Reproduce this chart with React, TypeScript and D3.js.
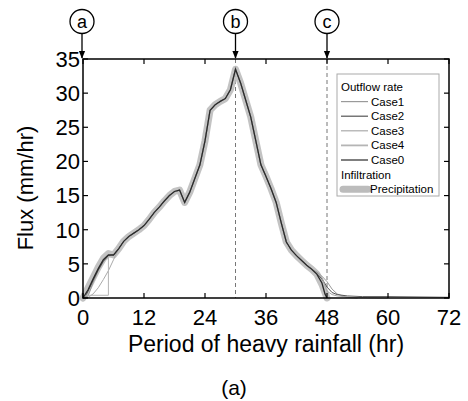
import React from "react";
import * as d3 from "d3";

const hours = [0,1,2,3,4,5,6,7,8,9,10,11,12,13,14,15,16,17,18,19,20,21,22,23,24,25,26,27,28,29,30,31,32,33,34,35,36,37,38,39,40,41,42,43,44,45,46,47,48];
const precipitation = [0,1.5,3,4.5,5.8,6.5,6.3,7.2,8.3,9,9.5,10,10.6,11.5,12.5,13.3,14.2,15,15.6,15.8,14,15.5,17.5,19.5,23,27.5,28.3,28.8,29.2,30.5,33.5,31.5,29,26.5,23,19.5,17.8,16,14,11,8.2,7,6.2,5.5,4.8,4.2,3.5,2,0];

// Cases share the body of precipitation; start and end parts read separately
const case0Start: [number, number][] = [[0,0],[1,1.2],[2,2.8],[3,4.3],[4,5.6],[5,6.3]];
const case1Start: [number, number][] = [[0,0],[1,0.3],[2,2.3],[3,4],[4,5.3],[5,6.2]];
const case2Start: [number, number][] = [[0,0],[0.5,0.3],[1,1],[2,2.6],[3,4.1],[4,5.4],[5,6.2]];
const case3Start: [number, number][] = [[0,0],[1,0.1],[2,0.6],[3,1.5],[4,2.7],[5,4],[6,5.6]];
const case4Start: [number, number][] = [[0,0],[0.6,0.4],[5,0.4],[5,6.1]];

const case0End: [number, number][] = [[46,3.5],[47,2.2],[47.6,0.6],[48,0]];
const case1End: [number, number][] = [[46,3.8],[47,3.2],[48,2.4],[49,1.3],[50,0.6],[51,0.3],[52,0.1],[54,0]];
const case2End: [number, number][] = [[46,3.6],[47,2.8],[48,1.6],[49,0.8],[50,0.5],[52,0.3],[55,0.2],[60,0.2],[72,0.1]];
const case3End: [number, number][] = [[46,3.7],[47,3],[48,1.0],[49,0.5],[50,0.3],[52,0.15],[56,0.05],[60,0]];
const case4End: [number, number][] = [[46,3.4],[47,2.4],[47.7,0.4],[48,0]];

const xTicks = [0,12,24,36,48,60,72];
const yTicks = [0,5,10,15,20,25,30,35];
const markers = [{ label: "a", h: 0 }, { label: "b", h: 30 }, { label: "c", h: 48 }];
const legendCases = ["Case1", "Case2", "Case3", "Case4", "Case0"];
const caseColors = ["#9a9a9a", "#555555", "#aaaaaa", "#b5b5b5", "#2a2a2a"];

function body(start: [number, number][], end: [number, number][]): [number, number][] {
  const s0 = start[start.length - 1][0];
  const e0 = end[0][0];
  const mid: [number, number][] = hours
    .map((h, i) => [h, precipitation[i]] as [number, number])
    .filter(([h]) => h > s0 && h < e0);
  return [...start, ...mid, ...end];
}

export default function App() {
  const W = 468, H = 401;
  const x = d3.scaleLinear().domain([0, 72]).range([83, 449]);
  const y = d3.scaleLinear().domain([0, 35]).range([298, 59]);
  const line = d3.line<[number, number]>().x(d => x(d[0])).y(d => y(d[1]));
  const precipData = hours.map((h, i) => [h, precipitation[i]] as [number, number]);
  const cases = [
    body(case1Start, case1End),
    body(case2Start, case2End),
    body(case3Start, case3End),
    body(case4Start, case4End),
    body(case0Start, case0End),
  ];
  const font = "'Liberation Sans', Arial, sans-serif";
  const lx = 337, ly = 74, lw = 102, lh = 122;
  const rowY = (i: number) => 87 + i * 14.6;
  const mx = (h: number) => x(h) - (h === 0 ? 1 : 0);
  return (
    <svg width={W} height={H} style={{ position: "absolute", left: 0, top: 0, background: "#fff" }} fontFamily={font}>
      <defs>
        <marker id="arr" viewBox="0 0 10 10" refX="9" refY="5" markerWidth="6" markerHeight="8" orient="auto">
          <path d="M0,1 L10,5 L0,9 z" fill="#000" />
        </marker>
      </defs>
      {[30, 48].map(h => (
        <line key={h} x1={x(h)} x2={x(h)} y1={y(35)} y2={y(0)} stroke="#777" strokeWidth={1} strokeDasharray="4,3" />
      ))}
      <path d={line(precipData) || ""} fill="none" stroke="#bcbcbc" strokeWidth={7} strokeLinejoin="round" strokeLinecap="round" opacity={0.9} />
      {cases.map((c, i) => (
        <path key={i} d={line(c) || ""} fill="none" stroke={caseColors[i]} strokeWidth={i === 4 ? 1.3 : 1} />
      ))}
      <rect x={x(0)} y={y(35)} width={x(72) - x(0)} height={y(0) - y(35)} fill="none" stroke="#000" strokeWidth={1.5} />
      {xTicks.map(t => (
        <g key={"x" + t}>
          <line x1={x(t)} x2={x(t)} y1={y(0)} y2={y(0) - 5} stroke="#000" strokeWidth={1.2} />
          <line x1={x(t)} x2={x(t)} y1={y(35)} y2={y(35) + 5} stroke="#000" strokeWidth={1.2} />
          <text x={x(t)} y={325} fontSize={22} textAnchor="middle">{t}</text>
        </g>
      ))}
      {yTicks.map(t => (
        <g key={"y" + t}>
          <line x1={x(0)} x2={x(0) + 5} y1={y(t)} y2={y(t)} stroke="#000" strokeWidth={1.2} />
          <line x1={x(72)} x2={x(72) - 5} y1={y(t)} y2={y(t)} stroke="#000" strokeWidth={1.2} />
          <text x={80} y={y(t) + 7.8} fontSize={22} textAnchor="end">{t}</text>
        </g>
      ))}
      <text transform="translate(33,188) rotate(-90)" fontSize={22} textAnchor="middle">Flux (mm/hr)</text>
      <text x={266} y={352} fontSize={23} textAnchor="middle">Period of heavy rainfall (hr)</text>
      <text x={234} y={395} fontSize={21} textAnchor="middle">(a)</text>
      {markers.map(m => (
        <g key={m.label}>
          <circle cx={mx(m.h)} cy={21.5} r={12} fill="#fff" stroke="#000" strokeWidth={1.3} />
          <text x={mx(m.h)} y={27.5} fontSize={18} textAnchor="middle">{m.label}</text>
          <line x1={mx(m.h)} x2={mx(m.h)} y1={34} y2={58} stroke="#000" strokeWidth={1.3} markerEnd="url(#arr)" />
        </g>
      ))}
      <rect x={lx} y={ly} width={lw} height={lh} fill="#fff" stroke="#aaa" strokeWidth={1} />
      <text x={341} y={rowY(0) + 4} fontSize={11.5}>Outflow rate</text>
      {legendCases.map((name, i) => (
        <g key={name}>
          <line x1={341} x2={368} y1={rowY(i + 1)} y2={rowY(i + 1)} stroke={caseColors[i]} strokeWidth={i === 3 ? 1.8 : 1.2} />
          <text x={371} y={rowY(i + 1) + 4} fontSize={11.5}>{name}</text>
        </g>
      ))}
      <text x={341} y={rowY(6) + 4} fontSize={11.5}>Infiltration</text>
      <line x1={343} x2={368} y1={rowY(7)} y2={rowY(7)} stroke="#bcbcbc" strokeWidth={7} strokeLinecap="round" />
      <text x={370} y={rowY(7) + 4} fontSize={11.5}>Precipitation</text>
    </svg>
  );
}
